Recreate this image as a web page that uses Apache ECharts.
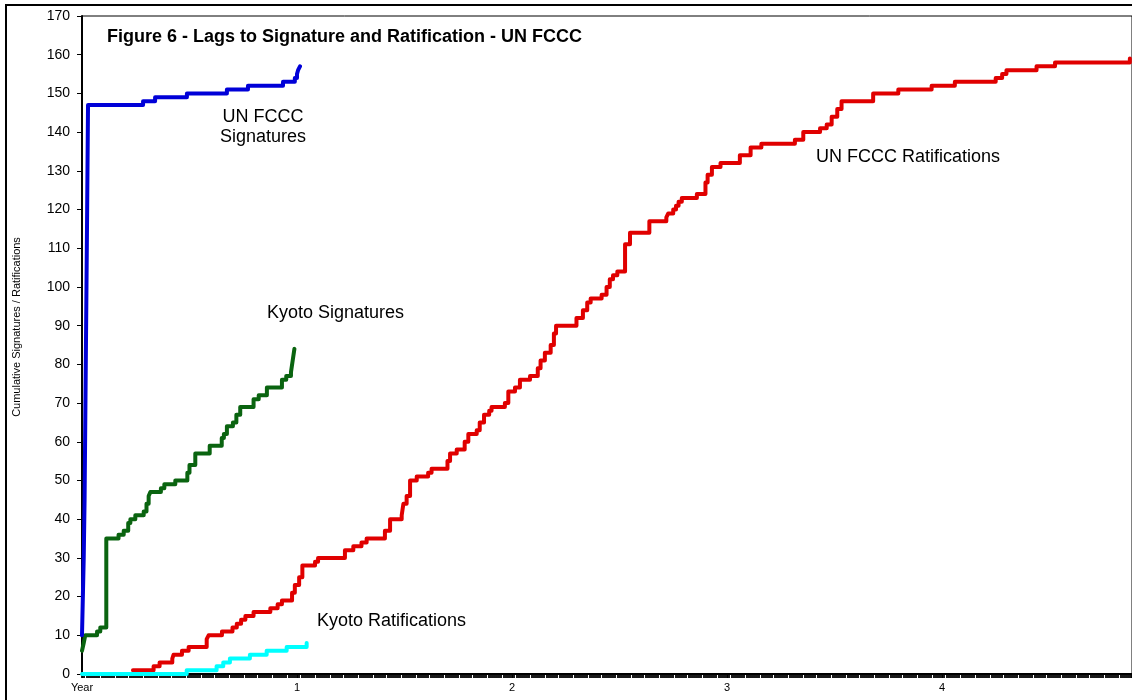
<!DOCTYPE html>
<html>
<head>
<meta charset="utf-8">
<script src="https://cdn.jsdelivr.net/npm/echarts@6/dist/echarts.min.js"></script>
<style>
  html, body { margin: 0; padding: 0; background: #fff; }
  #main { width: 1132px; height: 700px; }
</style>
</head>
<body>
<div id="main"></div>
<script>
// years since opening for signature, cumulative counts (step points)
var fcccSigYear  = [0, 0.004, 0.008, 0.012, 0.016, 0.02, 0.024, 0.028, 0.284, 0.34, 0.488, 0.674, 0.772, 0.935, 0.99, 1.0, 1.005, 1.014];
var fcccSigCount = [10, 20, 30, 45, 70, 95, 120, 147, 148, 149, 150, 151, 152, 153, 154, 155, 156, 157];

var kyotoSigYear  = [0, 0.008, 0.015, 0.07, 0.085, 0.113, 0.17, 0.194, 0.215, 0.225, 0.248, 0.287, 0.3, 0.31, 0.318,
                     0.367, 0.383, 0.434, 0.49, 0.5, 0.527, 0.594, 0.65, 0.66, 0.674, 0.702, 0.718, 0.736, 0.798,
                     0.822, 0.86, 0.93, 0.95, 0.972, 0.98, 0.988];
var kyotoSigCount = [6, 8, 10, 11, 12, 35, 36, 37, 39, 40, 41, 42, 44, 46, 47,
                     48, 49, 50, 52, 54, 57, 59, 61, 62, 64, 65, 67, 69, 71,
                     72, 74, 76, 77, 78, 81, 84];

var fcccRatYear  = [0.237, 0.333, 0.361, 0.42, 0.426, 0.465, 0.496, 0.58, 0.589, 0.651, 0.70, 0.72, 0.74, 0.76, 0.798,
                    0.876, 0.91, 0.93, 0.977, 0.99, 1.01, 1.025, 1.084, 1.098, 1.223, 1.262, 1.30, 1.324, 1.409, 1.433,
                    1.487, 1.495, 1.51, 1.526, 1.557, 1.61, 1.626, 1.70, 1.712, 1.743, 1.78, 1.797, 1.836, 1.85, 1.87,
                    1.894, 1.905, 1.967, 1.983, 2.014, 2.037, 2.084, 2.12, 2.133, 2.153, 2.18, 2.195, 2.205, 2.30, 2.33,
                    2.35, 2.366, 2.417, 2.44, 2.455, 2.47, 2.49, 2.526, 2.549, 2.639, 2.718, 2.727, 2.75, 2.763, 2.775,
                    2.79, 2.86, 2.90, 2.91, 2.93, 2.97, 3.06, 3.11, 3.16, 3.316, 3.355, 3.433, 3.464, 3.487, 3.513,
                    3.533, 3.68, 3.797, 3.952, 4.06, 4.25, 4.28, 4.30, 4.44, 4.526, 4.874];
var fcccRatCount = [1, 2, 3, 4, 5, 6, 7, 9, 10, 11, 12, 13, 14, 15, 16,
                    17, 18, 19, 21, 23, 25, 28, 29, 30, 32, 33, 34, 35, 37, 40,
                    41, 44, 46, 50, 51, 52, 53, 55, 57, 58, 60, 62, 63, 65, 67,
                    68, 69, 70, 73, 74, 76, 77, 79, 81, 83, 85, 88, 90, 92, 94,
                    96, 97, 98, 100, 102, 103, 104, 111, 114, 117, 118, 119, 120, 121, 122,
                    123, 124, 127, 129, 131, 132, 134, 136, 137, 138, 140, 141, 142, 144, 146,
                    148, 150, 151, 152, 153, 154, 155, 156, 157, 158, 159];

var kyotoRatYear  = [0, 0.487, 0.626, 0.657, 0.688, 0.781, 0.859, 0.952, 1.045];
var kyotoRatCount = [0, 1, 2, 3, 4, 5, 6, 7, 8];

var yearTicks = ['Year', '1', '2', '3', '4'];

function pairs(xs, ys) {
    return xs.map(function (x, i) { return [x, ys[i]]; });
}

var font = 'Liberation Sans, Arial, sans-serif';

function stepLine(name, color, xs, ys) {
    return {
        name: name,
        type: 'line',
        step: 'end',
        showSymbol: false,
        symbol: 'none',
        z: 5,
        lineStyle: { color: color, width: 4, cap: 'round', join: 'round' },
        data: pairs(xs, ys)
    };
}

var myChart = echarts.init(document.getElementById('main'));
var option = {
    animation: false,
    backgroundColor: '#fff',
    title: {
        text: 'Figure 6 - Lags to Signature and Ratification - UN FCCC',
        left: 107,
        top: 28,
        padding: 0,
        textStyle: { fontFamily: font, fontSize: 18, fontWeight: 'bold', color: '#000' }
    },
    grid: {
        left: 82, right: 0, top: 16, bottom: 26,
        show: true, borderColor: '#000', borderWidth: 1, backgroundColor: 'transparent'
    },
    xAxis: [{
        type: 'value',
        min: 0,
        max: 4.884,
        interval: 1,
        splitLine: { show: false },
        axisLine: { lineStyle: { color: '#000', width: 2 } },
        axisTick: { show: true, length: 4, lineStyle: { color: '#000', width: 1 } },
        axisLabel: {
            margin: 8,
            fontFamily: font, fontSize: 11, color: '#000',
            showMaxLabel: false,
            formatter: function (v) {
                var i = Math.round(v);
                return Math.abs(v - i) < 1e-6 && yearTicks[i] !== undefined ? yearTicks[i] : '';
            }
        }
    }, {
        // dense day ticks that form the heavy band under the axis
        type: 'value',
        position: 'bottom',
        min: 0,
        max: 4.884,
        interval: 0.01,
        splitLine: { show: false },
        axisLine: { show: false },
        axisLabel: { show: false },
        axisTick: { show: true, length: 4, lineStyle: { color: '#000', width: 1.8 } }
    }],
    yAxis: {
        type: 'value',
        min: 0,
        max: 170,
        interval: 10,
        splitLine: { show: false },
        axisLine: { show: true, lineStyle: { color: '#000', width: 2 } },
        axisTick: { show: true, length: 5, lineStyle: { color: '#000' } },
        axisLabel: { margin: 12, fontFamily: font, fontSize: 14, color: '#000' }
    },
    graphic: [
        { type: 'rect', shape: { x: 6, y: 5, width: 1400, height: 900 }, style: { fill: 'none', stroke: '#000', lineWidth: 2 }, z: 100 },
        { type: 'text', x: 17, y: 327, rotation: Math.PI / 2,
          style: { text: 'Cumulative Signatures / Ratifications', font: '11px ' + font, fill: '#000', textAlign: 'center', textVerticalAlign: 'middle' } },
        { type: 'text', x: 263, y: 127,
          style: { text: 'UN FCCC\nSignatures', font: '18px ' + font, lineHeight: 20, fill: '#000', textAlign: 'center', textVerticalAlign: 'middle' } },
        { type: 'text', x: 267, y: 313,
          style: { text: 'Kyoto Signatures', font: '18px ' + font, fill: '#000', textAlign: 'left', textVerticalAlign: 'middle' } },
        { type: 'text', x: 317, y: 621,
          style: { text: 'Kyoto Ratifications', font: '18px ' + font, fill: '#000', textAlign: 'left', textVerticalAlign: 'middle' } },
        { type: 'text', x: 816, y: 157,
          style: { text: 'UN FCCC Ratifications', font: '18px ' + font, fill: '#000', textAlign: 'left', textVerticalAlign: 'middle' } }
    ],
    series: [
        stepLine('UN FCCC Ratifications', '#e00000', fcccRatYear, fcccRatCount),
        stepLine('Kyoto Signatures', '#0a6410', kyotoSigYear, kyotoSigCount),
        stepLine('UN FCCC Signatures', '#0000d8', fcccSigYear, fcccSigCount),
        stepLine('Kyoto Ratifications', '#00ffff', kyotoRatYear, kyotoRatCount)
    ]
};
myChart.setOption(option);
</script>
</body>
</html>
